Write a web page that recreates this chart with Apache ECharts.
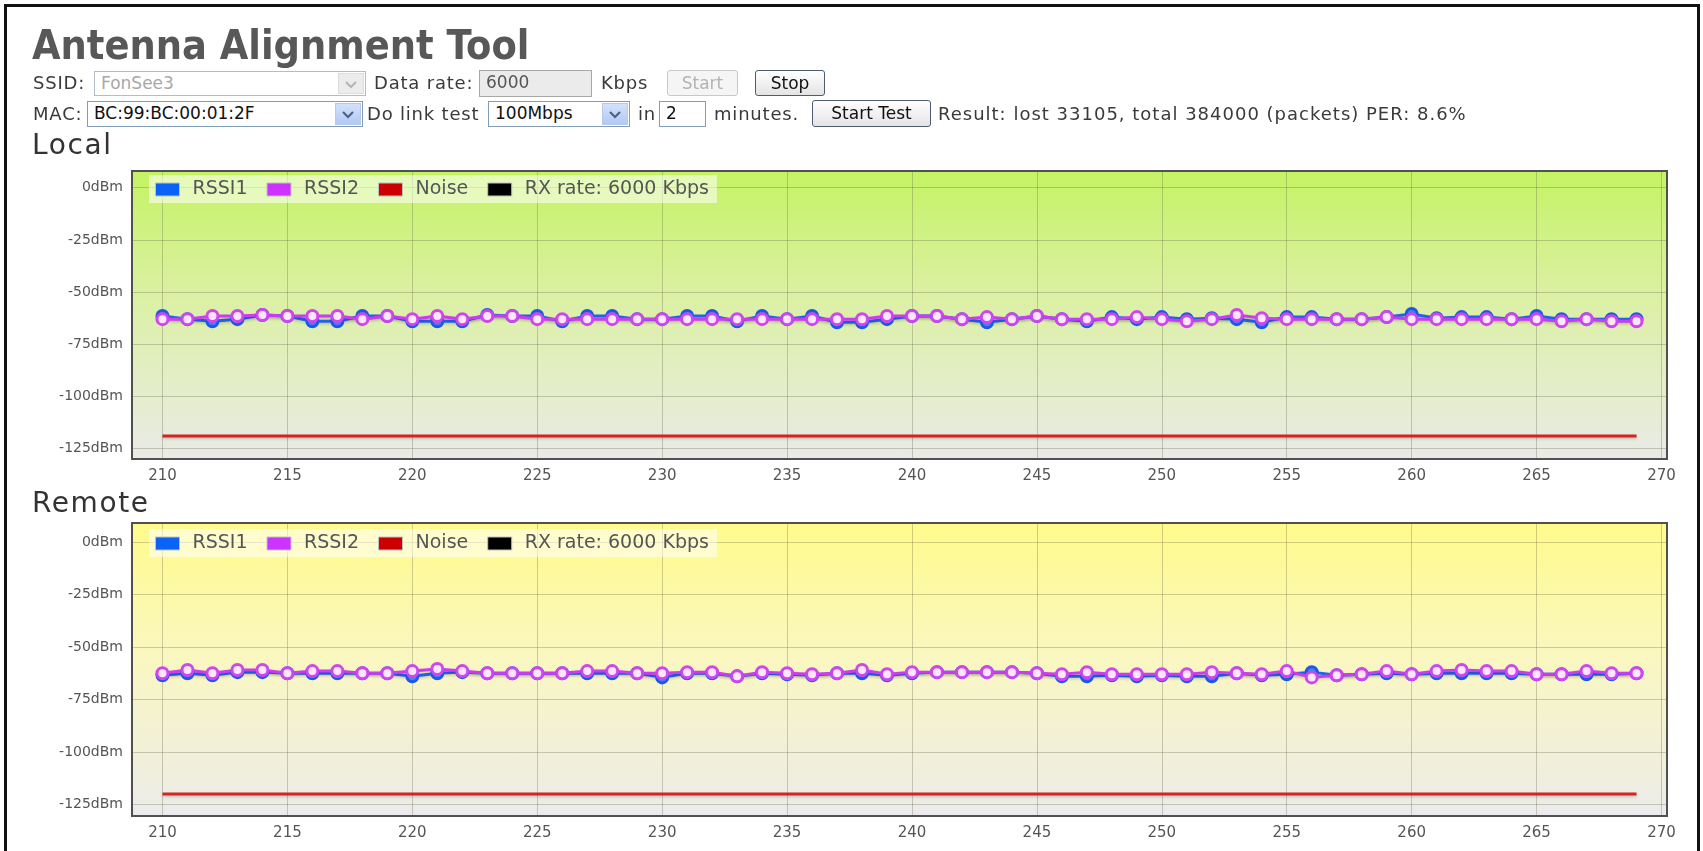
<!DOCTYPE html>
<html>
<head>
<meta charset="utf-8">
<title>Antenna Alignment Tool</title>
<script src="https://cdn.jsdelivr.net/npm/echarts@6/dist/echarts.min.js"></script>
<style>
  body { margin: 0; background: #fff; font-family: "DejaVu Sans", sans-serif; color: #3a3a3a; }
  #frame { position: absolute; left: 4px; top: 4px; width: 1690px; height: 900px; border: 3px solid #111; border-bottom: none; }
  #main { position: absolute; left: 0; top: 0; width: 1703px; height: 851px; }
  #head { position: absolute; left: 0; top: 0; width: 1703px; height: 135px; }
  .t { position: absolute; white-space: nowrap; font-size: 18px; line-height: 22px; letter-spacing: 0.8px; }
  .title { position: absolute; left: 32px; top: 22px; white-space: nowrap; font-family: "DejaVu Sans Condensed", "Liberation Sans Narrow", "DejaVu Sans", sans-serif;
           font-stretch: condensed; font-weight: bold; font-size: 41px; line-height: 46px; color: #585858; letter-spacing: 0; }
  .sect { position: absolute; left: 32px; white-space: nowrap; font-size: 28px; line-height: 32px; letter-spacing: 1.6px; color: #333; }
  .box { position: absolute; box-sizing: border-box; background: #fff; border: 1px solid #7f9db9; font-size: 17px; line-height: 23px; padding-left: 6px; white-space: nowrap; }
  .dis { border-color: #b5bcc5; color: #a8a8a8; }
  .grey { background: #ebebeb; border-color: #a8a8a8; color: #555; }
  .arrow { position: absolute; right: 1px; top: 1px; bottom: 1px; width: 26px; box-sizing: border-box; border: 1px solid #b6c9ee;
           background: linear-gradient(#d3e1fb, #b3c9f3); text-align: center; line-height: 0; }
  .arrow svg { margin-top: 7px; }
  .arrow.off { background: #ececec; border-color: #dcdcdc; }
  .btn { position: absolute; box-sizing: border-box; border: 1px solid #4d5d6f; border-radius: 3px; background: linear-gradient(#ffffff, #e4e4e4);
         font-size: 17px; line-height: 24px; text-align: center; color: #111; white-space: nowrap; }
  .btn.off { border-color: #c8c8c8; color: #b3b3b3; background: #f5f5f5; }
</style>
</head>
<body>
<div id="main"></div>
<div id="head">
  <div class="title">Antenna Alignment Tool</div>

  <div class="t" style="left:33px; top:72px;">SSID:</div>
  <div class="box dis" style="left:94px; top:71px; width:272px; height:25px;">FonSee3
    <div class="arrow off"><svg width="12" height="8"><polyline points="1,1 6,6 11,1" fill="none" stroke="#b4b4b4" stroke-width="2"/></svg></div>
  </div>
  <div class="t" style="left:374px; top:72px;">Data rate:</div>
  <div class="box grey" style="left:479px; top:70px; width:113px; height:27px;">6000</div>
  <div class="t" style="left:601px; top:72px;">Kbps</div>
  <div class="btn off" style="left:667px; top:70px; width:71px; height:26px;">Start</div>
  <div class="btn" style="left:755px; top:70px; width:70px; height:26px;">Stop</div>

  <div class="t" style="left:33px; top:103px;">MAC:</div>
  <div class="box" style="left:87px; top:101px; width:276px; height:26px; color:#111;">BC:99:BC:00:01:2F
    <div class="arrow"><svg width="12" height="8"><polyline points="1,1 6,6 11,1" fill="none" stroke="#4d6185" stroke-width="2.2"/></svg></div>
  </div>
  <div class="t" style="left:367px; top:103px;">Do link test</div>
  <div class="box" style="left:488px; top:101px; width:142px; height:26px; color:#111;">100Mbps
    <div class="arrow"><svg width="12" height="8"><polyline points="1,1 6,6 11,1" fill="none" stroke="#4d6185" stroke-width="2.2"/></svg></div>
  </div>
  <div class="t" style="left:638px; top:103px;">in</div>
  <div class="box" style="left:659px; top:101px; width:47px; height:26px; color:#111;">2</div>
  <div class="t" style="left:714px; top:103px;">minutes.</div>
  <div class="btn" style="left:812px; top:100px; width:119px; height:27px;">Start Test</div>
  <div class="t" style="left:938px; top:103px; letter-spacing:1px;">Result: lost 33105, total 384000 (packets) PER: 8.6%</div>
</div>
<div class="sect" style="top:129px;">Local</div>
<div class="sect" style="top:487px;">Remote</div>
<div id="frame"></div>

<script>
// seconds on the x axis
var seconds = [210, 211, 212, 213, 214, 215, 216, 217, 218, 219,
               220, 221, 222, 223, 224, 225, 226, 227, 228, 229,
               230, 231, 232, 233, 234, 235, 236, 237, 238, 239,
               240, 241, 242, 243, 244, 245, 246, 247, 248, 249,
               250, 251, 252, 253, 254, 255, 256, 257, 258, 259,
               260, 261, 262, 263, 264, 265, 266, 267, 268, 269];
var xTicks = [210, 215, 220, 225, 230, 235, 240, 245, 250, 255, 260, 265, 270];
var yTicks = [-125, -100, -75, -50, -25, 0];

// Local (dBm)
var localRssi1 = [-61.5, -63, -64, -63, -61, -61.5, -64, -64, -61.5, -61.5,
                  -64, -64, -64, -61, -61.5, -61.5, -64, -61.5, -61.5, -63,
                  -63, -61.5, -61.5, -64, -61.5, -63, -61.5, -64.5, -64.5, -63,
                  -61.5, -61.5, -63, -64.5, -63, -61.5, -63, -64, -62, -63,
                  -62, -63, -62.5, -63, -64.5, -62, -62, -63, -63, -62,
                  -60.5, -62.5, -62, -62, -63, -61.5, -63, -63, -63, -63];
var localRssi2 = [-63, -63, -61.5, -61.5, -61, -61.5, -61.5, -61.5, -63, -61.5,
                  -63, -61.5, -63, -61.5, -61.5, -63, -63, -63, -63, -63,
                  -63, -63, -63, -63, -63, -63, -63, -63, -63, -61.5,
                  -61.5, -61.5, -63, -62, -63, -61.5, -63, -63, -63, -62,
                  -63, -64, -63, -61, -62.5, -63, -63, -63, -63, -62,
                  -63, -63, -63, -63, -63, -63, -64, -63, -64, -64];
var localNoise = [-119, -119, -119, -119, -119, -119, -119, -119, -119, -119,
                  -119, -119, -119, -119, -119, -119, -119, -119, -119, -119,
                  -119, -119, -119, -119, -119, -119, -119, -119, -119, -119,
                  -119, -119, -119, -119, -119, -119, -119, -119, -119, -119,
                  -119, -119, -119, -119, -119, -119, -119, -119, -119, -119,
                  -119, -119, -119, -119, -119, -119, -119, -119, -119, -119];

// Remote (dBm)
var remoteRssi1 = [-63.5, -62.5, -63.5, -62, -62, -62.5, -62.5, -62.5, -62.5, -62.5,
                   -64, -62.5, -62, -62.5, -62.5, -62.5, -62.5, -62.5, -62.5, -62.5,
                   -64.5, -62.5, -62.5, -64, -62.5, -63, -63.5, -62.5, -62.5, -63.5,
                   -62.5, -62, -62, -62, -62, -62.5, -64, -64, -63.5, -64,
                   -63.5, -64, -64, -62.5, -63.5, -63, -62, -63.5, -63, -62.5,
                   -63, -62.5, -62.5, -62.5, -62.5, -63, -63, -63, -63, -62.5];
var remoteRssi2 = [-62.5, -61, -62.5, -61, -61, -62.5, -61.5, -61.5, -62.5, -62.5,
                   -61.5, -60.5, -61.5, -62.5, -62.5, -62.5, -62.5, -61.5, -61.5, -62.5,
                   -62.5, -62, -62, -64, -62, -62.5, -63, -62.5, -61, -63,
                   -62, -62, -62, -62, -62, -62.5, -63, -62, -63, -63,
                   -63, -63, -62, -62.5, -63, -61.5, -64.5, -63.5, -63, -61.5,
                   -63, -61.5, -61, -61.5, -61.5, -63, -63, -61.5, -62.5, -62.5];
var remoteNoise = [-120, -120, -120, -120, -120, -120, -120, -120, -120, -120,
                   -120, -120, -120, -120, -120, -120, -120, -120, -120, -120,
                   -120, -120, -120, -120, -120, -120, -120, -120, -120, -120,
                   -120, -120, -120, -120, -120, -120, -120, -120, -120, -120,
                   -120, -120, -120, -120, -120, -120, -120, -120, -120, -120,
                   -120, -120, -120, -120, -120, -120, -120, -120, -120, -120];

var rxName = 'RX rate: 6000 Kbps';
var font = 'DejaVu Sans';

function pairs(vals) {
  return seconds.map(function (s, i) { return [s, vals[i]]; });
}

function bg(stops) {
  return new echarts.graphic.LinearGradient(0, 0, 0, 1, stops);
}

var gridLine = { show: true, lineStyle: { color: 'rgba(95,95,70,0.3)', width: 1 } };

function xAx(i) {
  return {
    gridIndex: i, type: 'value', min: 208.78, max: 270.22,
    axisLine: { show: false },
    axisTick: { show: false, customValues: xTicks },
    axisLabel: { customValues: xTicks, color: '#555', fontSize: 15, fontFamily: font, margin: 10, showMinLabel: true, showMaxLabel: true },
    splitLine: gridLine
  };
}

function yAx(i, min, max) {
  return {
    gridIndex: i, type: 'value', min: min, max: max,
    axisLine: { show: false },
    axisTick: { show: false, customValues: yTicks },
    axisLabel: { customValues: yTicks, formatter: '{value}dBm', color: '#555', fontSize: 14, fontFamily: font, margin: 9 },
    splitLine: gridLine
  };
}

function legend(top) {
  return {
    top: top, left: 149, orient: 'horizontal', selectedMode: false,
    backgroundColor: 'rgba(255,255,255,0.55)', padding: [5, 8, 4, 6],
    icon: 'rect', itemWidth: 24, itemHeight: 13, itemGap: 19,
    textStyle: { color: '#555', fontSize: 19, fontFamily: font, padding: [0, 0, 0, 8] },
    data: [
      { name: 'RSSI1', itemStyle: { color: '#0b63f6', borderColor: '#c0c0c0', borderWidth: 1 } },
      { name: 'RSSI2', itemStyle: { color: '#cc33ff', borderColor: '#c0c0c0', borderWidth: 1 } },
      { name: 'Noise', itemStyle: { color: '#cc0000', borderColor: '#c0c0c0', borderWidth: 1 } },
      { name: rxName, itemStyle: { color: '#000000', borderColor: '#c0c0c0', borderWidth: 1 } }
    ]
  };
}

var shadow = { shadowColor: 'rgba(0,0,0,0.18)', shadowBlur: 3, shadowOffsetY: 1.5 };

function seriesFor(i, r1, r2, noise) {
  return [
    {
      name: 'RSSI1', type: 'line', xAxisIndex: i, yAxisIndex: i, data: pairs(r1),
      symbol: 'circle', symbolSize: 11, showAllSymbol: true,
      lineStyle: Object.assign({ color: '#2462ee', width: 3 }, shadow),
      itemStyle: { color: '#4a7cf2', borderColor: '#1b58e6', borderWidth: 3 }
    },
    {
      name: 'RSSI2', type: 'line', xAxisIndex: i, yAxisIndex: i, data: pairs(r2),
      symbol: 'circle', symbolSize: 11, showAllSymbol: true,
      lineStyle: Object.assign({ color: '#c93cef', width: 3 }, shadow),
      itemStyle: { color: '#ffe6ff', borderColor: '#cf45ee', borderWidth: 3 }
    },
    {
      name: 'Noise', type: 'line', xAxisIndex: i, yAxisIndex: i, data: pairs(noise),
      symbol: 'none',
      lineStyle: Object.assign({ color: '#d42424', width: 3 }, shadow)
    },
    {
      name: rxName, type: 'line', xAxisIndex: i, yAxisIndex: i, data: [],
      symbol: 'none', itemStyle: { color: '#000' }, lineStyle: { color: '#000' }
    }
  ];
}

var chart = echarts.init(document.getElementById('main'));

var option = {
  animation: false,
  textStyle: { fontFamily: font },
  legend: [legend(175), legend(529)],
  grid: [
    { left: 132, top: 171, width: 1535, height: 288, show: true, borderColor: '#505050', borderWidth: 2,
      backgroundColor: bg([{ offset: 0, color: '#c4f363' }, { offset: 0.45, color: '#dcf0a6' }, { offset: 0.88, color: '#e7ecd9' }, { offset: 1, color: '#eaeae8' }]) },
    { left: 132, top: 523, width: 1535, height: 293, show: true, borderColor: '#505050', borderWidth: 2,
      backgroundColor: bg([{ offset: 0, color: '#fffb8a' }, { offset: 0.45, color: '#faf7c0' }, { offset: 0.88, color: '#efeee0' }, { offset: 1, color: '#ebebee' }]) }
  ],
  xAxis: [xAx(0), xAx(1)],
  yAxis: [yAx(0, -130, 8), yAx(1, -130.5, 9)],
  series: seriesFor(0, localRssi1, localRssi2, localNoise).concat(seriesFor(1, remoteRssi1, remoteRssi2, remoteNoise))
};

chart.setOption(option);
</script>
</body>
</html>
